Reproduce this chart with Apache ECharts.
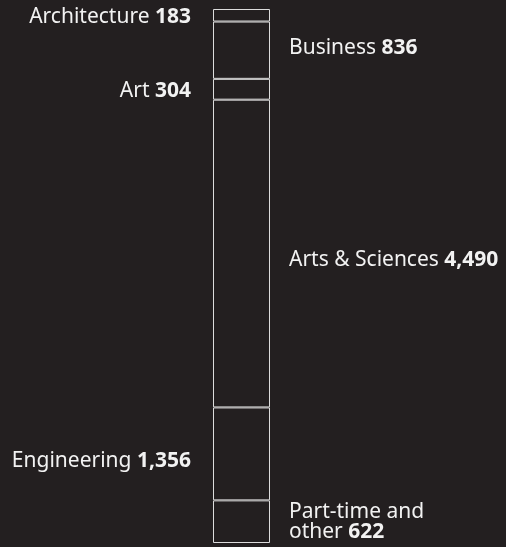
<!DOCTYPE html>
<html>
<head>
<meta charset="utf-8">
<script src="https://cdn.jsdelivr.net/npm/echarts@6/dist/echarts.min.js"></script>
<style>
  html, body { margin: 0; padding: 0; background: #231f20; }
  #chart { width: 506px; height: 547px; }
</style>
</head>
<body>
<div id="chart"></div>
<script>
// schools, top to bottom
const schools = ['Architecture', 'Business', 'Art', 'Arts & Sciences', 'Engineering', 'Part-time and\nother'];
const students = [183, 836, 304, 4490, 1356, 622];
const labelSide = ['left', 'right', 'left', 'right', 'left', 'right'];
// small vertical nudges of the labels, px
const labelShift = [2, -2, 2, 6, 7, 0];

const total = students.reduce((a, b) => a + b, 0);
const fmt = (v) => v.toLocaleString('en-US');

const series = schools.map((name, i) => {
  const lines = name.split('\n');
  const last = lines.pop();
  const head = lines.map((l) => '{n|' + l + '}').join('\n');
  const text = (head ? head + '\n' : '') + '{n|' + last + ' }{v|' + fmt(students[i]) + '}';
  return {
    name: name,
    type: 'bar',
    stack: 'all',
    barWidth: 57,
    data: [students[i]],
    itemStyle: {
      color: '#231f20',
      borderColor: '#dcdcdc',
      borderWidth: 1
    },
    label: {
      show: true,
      position: labelSide[i],
      distance: labelSide[i] === 'left' ? 22 : 19,
      offset: [0, labelShift[i]],
      align: labelSide[i] === 'left' ? 'right' : 'left',
      formatter: () => text,
      rich: {
        n: { color: '#f2f2f2', fontSize: 21, fontFamily: 'Noto Sans', lineHeight: 20 },
        v: { color: '#f2f2f2', fontSize: 21, fontFamily: 'Noto Sans', fontWeight: 'bold', lineHeight: 20 }
      }
    }
  };
});

const chart = echarts.init(document.getElementById('chart'));
chart.setOption({
  backgroundColor: '#231f20',
  animation: false,
  grid: { left: 213, width: 57, top: 9, bottom: 4 },
  xAxis: { type: 'category', data: ['students'], show: false },
  yAxis: { type: 'value', min: 0, max: total, inverse: true, show: false },
  series: series
});
</script>
</body>
</html>
